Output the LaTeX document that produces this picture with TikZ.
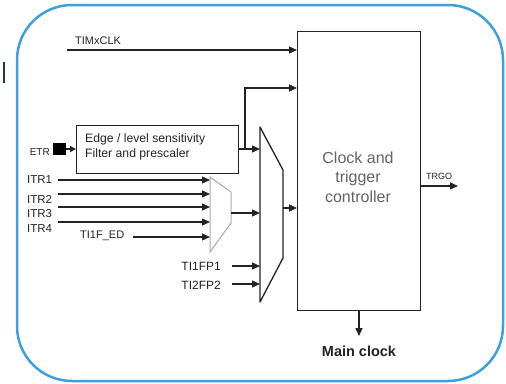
\documentclass[tikz,border=0pt]{standalone}
\usepackage{fontspec}
\setmainfont{Liberation Sans}
\usetikzlibrary{arrows.meta}
\definecolor{frameblue}{RGB}{60,160,220}
\definecolor{navy}{RGB}{30,50,90}
\definecolor{ink}{RGB}{35,35,35}
\definecolor{muxgray}{RGB}{170,170,170}
\definecolor{ctrltext}{RGB}{100,100,100}
\begin{document}
\begin{tikzpicture}[x=1pt,y=-1pt,
  wire/.style={draw=ink,line width=1.3pt},
  arr/.style={wire,-{Triangle[length=8pt,width=7pt]}},
  lbl/.style={inner sep=0pt,text=ink,font=\fontsize{11.5}{13}\selectfont},
  blk/.style={draw=ink,line width=1.3pt,inner sep=0pt}]
\useasboundingbox (0,0) rectangle (506,383);
% frame
\draw[frameblue,line width=2.5pt,rounded corners=55pt] (17,5) rectangle (503,381);
\draw[navy,line width=2.5pt] (4,62) -- (4,83);
% controller box
\node[blk,minimum width=123pt,minimum height=279pt,anchor=north west] (ctrl) at (297,31) {};
\node[align=center,text=ctrltext,font=\fontsize{16}{19.5}\selectfont] (ctrltxt) at (358,177) {Clock and\\trigger\\controller};
% TIMxCLK
\coordinate (clkin) at (67,50);
\node[lbl,anchor=south west,font=\fontsize{11}{13}\selectfont] (clklbl) at (75,45) {TIMxCLK};
\draw[arr] (clkin) -- (clkin -| ctrl.west);
% edge box
\node[blk,minimum width=162pt,minimum height=48pt,anchor=north west] (edge) at (76,125) {};
\node[lbl,anchor=west,align=left,font=\fontsize{12.2}{15}\selectfont] (edgetxt) at (85,147) {Edge / level sensitivity\\Filter and prescaler};
% ETR
\node[fill=black,minimum width=13pt,minimum height=12pt,inner sep=0pt] (etrsq) at (59,149) {};
\node[lbl,anchor=east,font=\fontsize{10}{11}\selectfont] (etrlbl) at (50,152) {ETR};
\draw[wire,-{Triangle[length=6pt,width=6pt]}] (etrsq.east) -- (edge.west |- etrsq.east);
% big mux
\coordinate (m1) at (260,127);
\coordinate (m2) at (283,170);
\coordinate (m3) at (283,258);
\coordinate (m4) at (260,302);
\draw[ink,line width=1.3pt,line join=round] (m1) -- (m2) -- (m3) -- (m4) -- cycle;
% small mux
\coordinate (s1) at (210,177);
\coordinate (s2) at (231,192);
\coordinate (s3) at (231,223);
\coordinate (s4) at (210,252);
\draw[muxgray,line width=1pt] (s1) -- (s2) -- (s3) -- (s4) -- cycle;
% edge box output
\coordinate (eout) at (238,149);
\coordinate (branch) at (245,149);
\coordinate (bigin1) at (260,149);
\draw[arr] (eout) -- (bigin1);
\coordinate (up) at (245,88);
\draw[arr] (branch) -- (up) -- (up -| ctrl.west);
% ITR inputs
\node[lbl,anchor=west] (itr1) at (27,180) {ITR1};
\node[lbl,anchor=west] (itr2) at (27,199) {ITR2};
\node[lbl,anchor=west] (itr3) at (27,214) {ITR3};
\node[lbl,anchor=west] (itr4) at (27,229) {ITR4};
\node[lbl,anchor=west,font=\fontsize{11}{13}\selectfont] (tied) at (80,236) {TI1F\_ED};
\coordinate (i1) at (58,180);
\coordinate (i2) at (58,194);
\coordinate (i3) at (58,207);
\coordinate (i4) at (58,222);
\coordinate (i5) at (133,237);
\foreach \c in {i1,i2,i3,i4,i5} \draw[arr] (\c) -- (\c -| s1);
% small mux output
\coordinate (sout) at (231,213);
\draw[arr] (sout) -- (sout -| m1);
% TI1FP1 / TI2FP2
\node[lbl,anchor=east,font=\fontsize{12}{13}\selectfont] (tifp1) at (221,266) {TI1FP1};
\node[lbl,anchor=east,font=\fontsize{12}{13}\selectfont] (tifp2) at (221,285) {TI2FP2};
\coordinate (f1) at (232,266);
\coordinate (f2) at (232,284);
\draw[arr] (f1) -- (f1 -| m1);
\draw[arr] (f2) -- (f2 -| m1);
% big mux output
\coordinate (mout) at (283,208);
\draw[arr] (mout) -- (mout -| ctrl.west);
% TRGO
\coordinate (trgo) at (458,186);
\node[lbl,anchor=south,font=\fontsize{9}{10}\selectfont] (trgolbl) at (439,180) {TRGO};
\draw[arr] (trgo -| ctrl.east) -- (trgo);
% main clock
\coordinate (mclk) at (359,336);
\draw[arr] (mclk |- ctrl.south) -- (mclk);
\node[lbl,font=\fontsize{14.5}{16}\selectfont\bfseries] (mclklbl) at (359,351) {Main clock};
\end{tikzpicture}
\end{document}
